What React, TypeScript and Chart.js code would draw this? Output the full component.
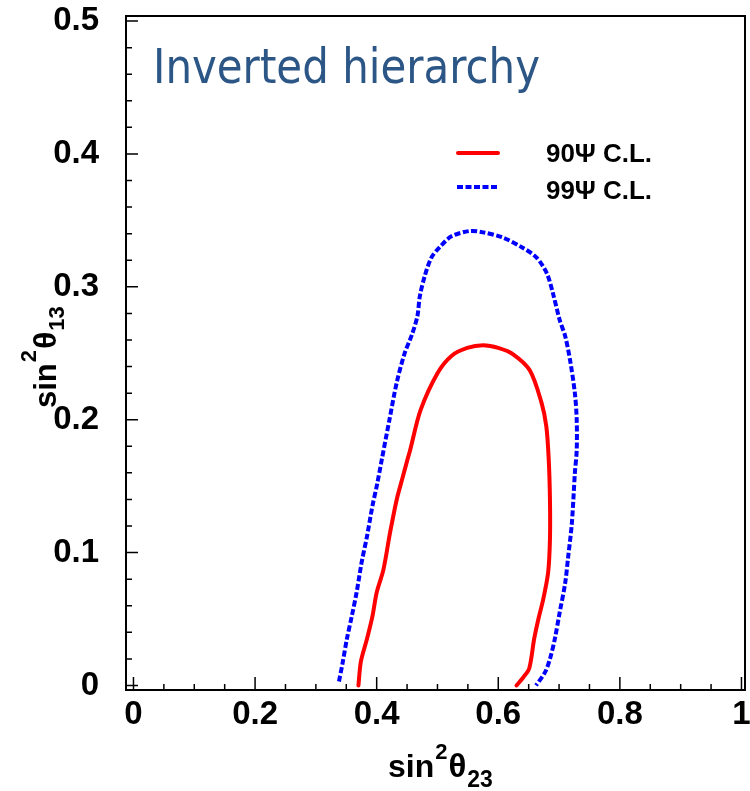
import React, { useEffect, useRef } from "react";
import { Chart, registerables } from "chart.js";

Chart.register(...registerables);

// ---- data ----
const cl90X = [0.370, 0.374, 0.384, 0.393, 0.400, 0.411, 0.422, 0.433, 0.443, 0.450, 0.455, 0.472, 0.500, 0.523, 0.549, 0.575, 0.600, 0.625, 0.652, 0.671, 0.679, 0.683, 0.685, 0.685, 0.682, 0.674, 0.666, 0.659, 0.651, 0.641, 0.630];
const cl90Y = [0.000, 0.018, 0.035, 0.052, 0.070, 0.087, 0.115, 0.140, 0.157, 0.169, 0.177, 0.207, 0.235, 0.248, 0.254, 0.256, 0.254, 0.249, 0.237, 0.213, 0.195, 0.170, 0.140, 0.110, 0.085, 0.065, 0.050, 0.035, 0.013, 0.006, 0.000];

const cl99X = [0.338, 0.344, 0.351, 0.359, 0.367, 0.375, 0.384, 0.393, 0.401, 0.408, 0.421, 0.433, 0.446, 0.458, 0.467, 0.471, 0.479, 0.490, 0.504, 0.523, 0.553, 0.575, 0.608, 0.638, 0.663, 0.680, 0.690, 0.701, 0.710, 0.718, 0.726, 0.729, 0.729, 0.726, 0.721, 0.715, 0.710, 0.701, 0.693, 0.685, 0.677, 0.662];
const cl99Y = [0.003, 0.017, 0.035, 0.052, 0.070, 0.092, 0.112, 0.135, 0.152, 0.169, 0.200, 0.228, 0.250, 0.264, 0.278, 0.293, 0.308, 0.322, 0.330, 0.338, 0.342, 0.341, 0.337, 0.330, 0.322, 0.310, 0.295, 0.275, 0.263, 0.245, 0.220, 0.200, 0.177, 0.160, 0.122, 0.097, 0.077, 0.055, 0.035, 0.020, 0.010, 0.000];

const xTickValues = [0, 0.2, 0.4, 0.6, 0.8, 1];
const yTickValues = [0, 0.1, 0.2, 0.3, 0.4, 0.5];
const legendLabels = ["90\u03A8 C.L.", "99\u03A8 C.L."];
const titleText = "Inverted hierarchy";

const FONT = '"Liberation Sans", Arial, Helvetica, sans-serif';

type Part = { text: string; size: number; dy: number };

function drawParts(ctx: CanvasRenderingContext2D, parts: Part[], x: number, y: number) {
  let cx = x;
  for (const p of parts) {
    ctx.font = `bold ${p.size}px ${FONT}`;
    ctx.fillText(p.text, cx, y + p.dy);
    cx += ctx.measureText(p.text).width + 1;
  }
}

function drawScaled(ctx: CanvasRenderingContext2D, text: string, x: number, y: number, font: string, width: number) {
  ctx.save();
  ctx.font = font;
  const w = ctx.measureText(text).width;
  ctx.translate(x, y);
  ctx.scale(width / w, 1);
  ctx.fillText(text, 0, 0);
  ctx.restore();
}

const decorPlugin = {
  id: "decor",
  afterDraw(chart: any) {
    const { ctx, chartArea: a, scales } = chart;
    const xs = scales.x;
    const ys = scales.y;
    ctx.save();
    ctx.strokeStyle = "#000";
    ctx.lineWidth = 1.5;
    ctx.beginPath();
    for (let i = 0; i <= 20; i++) {
      const px = xs.getPixelForValue(i * 0.05);
      const len = i % 4 === 0 ? 13 : 6;
      ctx.moveTo(px, a.bottom);
      ctx.lineTo(px, a.bottom - len);
    }
    for (let i = 0; i <= 25; i++) {
      const py = ys.getPixelForValue(i * 0.02);
      const len = i % 5 === 0 ? 12 : 6;
      ctx.moveTo(a.left, py);
      ctx.lineTo(a.left + len, py);
    }
    ctx.stroke();
    ctx.lineWidth = 2;
    ctx.strokeRect(a.left, a.top, a.right - a.left, a.bottom - a.top);

    // title
    ctx.fillStyle = "#2c5686";
    ctx.textBaseline = "alphabetic";
    drawScaled(ctx, titleText, 153, 83, '48px "DejaVu Sans", sans-serif', 387);

    // legend
    ctx.lineWidth = 4;
    ctx.lineCap = "round";
    ctx.strokeStyle = "#ff0000";
    ctx.beginPath();
    ctx.moveTo(458, 153);
    ctx.lineTo(498, 153);
    ctx.stroke();
    ctx.strokeStyle = "#0000ff";
    ctx.lineCap = "butt";
    ctx.setLineDash([6, 2.5]);
    ctx.beginPath();
    ctx.moveTo(457, 187);
    ctx.lineTo(499, 187);
    ctx.stroke();
    ctx.setLineDash([]);
    ctx.fillStyle = "#000";
    ctx.textBaseline = "middle";
    drawScaled(ctx, legendLabels[0], 546, 155, `bold 25px ${FONT}`, 106);
    drawScaled(ctx, legendLabels[1], 546, 192, `bold 25px ${FONT}`, 106);

    // axis titles
    ctx.textBaseline = "alphabetic";
    drawParts(ctx, [
      { text: "sin", size: 32, dy: 0 },
      { text: "2", size: 22, dy: -18 },
      { text: "\u03B8", size: 33, dy: 0 },
      { text: "23", size: 23, dy: 10 },
    ], 388, 777);

    ctx.save();
    ctx.translate(56, 408);
    ctx.rotate(-Math.PI / 2);
    drawParts(ctx, [
      { text: "sin", size: 31, dy: 0 },
      { text: "2", size: 22, dy: -20 },
      { text: "\u03B8", size: 32, dy: 0 },
      { text: "13", size: 22, dy: 8 },
    ], 0, 0);
    ctx.restore();
    ctx.restore();
  },
};

function fitScale(w: number | null, h: number | null) {
  return (scale: any) => {
    if (w !== null) scale.width = w;
    if (h !== null) scale.height = h;
    scale.paddingLeft = 0;
    scale.paddingRight = 0;
    scale.paddingTop = 0;
    scale.paddingBottom = 0;
  };
}

const fmt = (v: any) => `${Math.round(Number(v) * 10) / 10}`;

export default function App() {
  const ref = useRef<HTMLCanvasElement | null>(null);
  useEffect(() => {
    if (!ref.current) return;
    const chart = new Chart(ref.current, {
      type: "scatter",
      data: {
        datasets: [
          {
            label: legendLabels[0],
            data: cl90X.map((x, i) => ({ x, y: cl90Y[i] })),
            showLine: true,
            borderColor: "#ff0000",
            borderWidth: 4,
            pointRadius: 0,
            tension: 0.3,
            borderJoinStyle: "round",
            borderCapStyle: "round",
          },
          {
            label: legendLabels[1],
            data: cl99X.map((x, i) => ({ x, y: cl99Y[i] })),
            showLine: true,
            borderColor: "#0000ff",
            borderWidth: 4,
            borderDash: [6, 2.5],
            pointRadius: 0,
            tension: 0.3,
          },
        ],
      },
      options: {
        responsive: false,
        animation: false,
        devicePixelRatio: 1,
        layout: { padding: { left: 0, top: 16, right: 5, bottom: 0 } },
        plugins: { legend: { display: false }, tooltip: { enabled: false } },
        scales: {
          x: {
            type: "linear",
            min: -0.0123,
            max: 1.0058,
            grid: { display: false, drawTicks: false },
            border: { display: false },
            afterBuildTicks: (s: any) => { s.ticks = xTickValues.map((v) => ({ value: v })); },
            afterFit: fitScale(null, 101),
            ticks: {
              padding: 5,
              color: "#000",
              maxRotation: 0,
              autoSkip: false,
              callback: fmt,
              font: { family: FONT, weight: "bold", size: 33 },
            },
          },
          y: {
            type: "linear",
            min: -0.0034,
            max: 0.5038,
            grid: { display: false, drawTicks: false },
            border: { display: false },
            afterBuildTicks: (s: any) => { s.ticks = yTickValues.map((v) => ({ value: v })); },
            afterFit: fitScale(126, null),
            ticks: {
              padding: 27,
              color: "#000",
              autoSkip: false,
              callback: fmt,
              font: { family: FONT, weight: "bold", size: 33 },
            },
          },
        },
      },
      plugins: [decorPlugin],
    } as any);
    return () => chart.destroy();
  }, []);
  return (
    <div style={{ position: "absolute", left: 0, top: 0, width: 750, height: 791, background: "#fff" }}>
      <canvas ref={ref} width={750} height={791} style={{ width: 750, height: 791, display: "block" }} />
    </div>
  );
}
